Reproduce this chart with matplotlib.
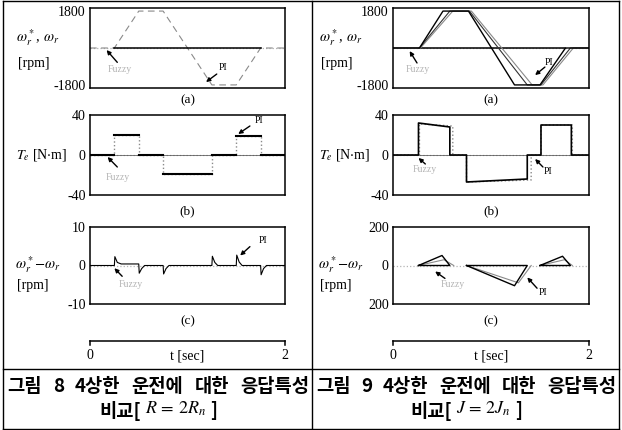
import matplotlib
matplotlib.use('Agg')
import matplotlib.pyplot as plt
from matplotlib.lines import Line2D

plt.rcParams['font.family'] = ['Liberation Serif', 'DejaVu Serif']
plt.rcParams['mathtext.fontset'] = 'stix'

W, H = 622, 430

# ---- left column: R = 2Rn ----
# (a) speed command / response
t_spd_l = [0, 0.25, 0.50, 0.75, 1.25, 1.50, 1.75, 2.0]
w_spd_l = [0, 0, 1800, 1800, -1800, -1800, 0, 0]
# (b) torque, step points
t_te_l = [0, 0.25, 0.25, 0.50, 0.50, 0.75, 0.75, 1.25, 1.25, 1.50, 1.50, 1.75, 1.75, 2.0]
te_l = [0, 0, 20, 20, 0, 0, -19, -19, 0, 0, 19, 19, 0, 0]
# (c) speed error
t_err_l = [0, 0.25, 0.255, 0.28, 0.32, 0.50, 0.505, 0.53, 0.56, 0.75, 0.755, 0.78, 0.81,
           1.25, 1.255, 1.28, 1.31, 1.50, 1.505, 1.53, 1.56, 1.75, 1.755, 1.78, 1.81, 2.0]
err_l = [0, 0, 2.3, 0.8, 0.4, 0.4, -2.0, -0.8, 0, 0, -2.2, -0.8, 0,
         0, 2.4, 0.8, 0, 0, 2.7, 0.9, 0, 0, -2.4, -0.8, 0, 0]

# ---- right column: J = 2Jn ----
t_ref_r = [0, 0.27, 0.51, 0.77, 1.24, 1.50, 1.76, 2.0]
t_fz_r = [0, 0.27, 0.58, 0.78, 1.37, 1.51, 1.81, 2.0]
t_pi_r = [0, 0.28, 0.61, 0.80, 1.42, 1.53, 1.84, 2.0]
w_r = [0, 0, 1800, 1800, -1800, -1800, 0, 0]

t_te_fz_r = [0, 0.26, 0.26, 0.58, 0.58, 0.75, 0.75, 1.37, 1.37, 1.51, 1.51, 1.82, 1.82, 2.0]
te_fz_r = [0, 0, 32, 28, 0, 0, -27, -24, 0, 0, 30, 30, 0, 0]
t_te_pi_r = [0, 0.27, 0.27, 0.61, 0.61, 0.75, 0.75, 1.41, 1.41, 1.51, 1.51, 1.83, 1.83, 2.0]
te_pi_r = [0, 0, 31, 29, 0, 0, -27, -25, 0, 0, 30, 30, 0, 0]

# error triangles (start, peak, end)
t_err_fz_r = [0.26, 0.50, 0.58, 0.75, 1.24, 1.37, 1.50, 1.73, 1.81]
err_fz_r = [0, 52, 0, 0, -105, 0, 0, 48, 0]
t_err_pi_r = [0.26, 0.52, 0.62, 0.75, 1.28, 1.41, 1.50, 1.75, 1.83]
err_pi_r = [0, 30, 0, 0, -90, 0, 0, 30, 0]

tick_a = [1800, -1800]
tick_b = [40, 0, -40]
tick_c_l = [10, 0, -10]
tick_c_r = [200, 0, -200]
tick_c_r_lbl = ['200', '0', '200']

caption_l = ['그림 8 4상한 운전에 대한 응답특성', '비교[', r'$R\,=\,2R_n$', ']']
caption_r = ['그림 9 4상한 운전에 대한 응답특성', '비교[', r'$J\,=\,2J_n$', ']']


def rect(x0, y0, x1, y1):
    return [x0 / W, 1 - y1 / H, (x1 - x0) / W, (y1 - y0) / H]


def fx(x):
    return x / W


def fy(y):
    return 1 - y / H


fig = plt.figure(figsize=(W / 100, H / 100), dpi=100)

LIGHT = '#b4b4b4'
GRAY = '#8a8a8a'


def setup(ax, ylim, ticks, labels=None):
    ax.set_xlim(0, 2)
    ax.set_ylim(*ylim)
    ax.set_xticks([])
    ax.set_yticks(ticks)
    ax.set_yticklabels(labels if labels else [str(v) for v in ticks])
    ax.tick_params(length=0, pad=3, labelsize=10)
    for s in ax.spines.values():
        s.set_linewidth(1.1)
    ax.axhline(0, color=LIGHT, ls=':', lw=0.9, zorder=1)


def arrow(ax, txt, pos, tail, head, color):
    ax.text(pos[0], pos[1], txt, color=color, fontsize=7, ha='center', va='center')
    ax.annotate('', xy=head, xytext=tail,
                arrowprops=dict(arrowstyle='-|>', color='k', lw=1.0, mutation_scale=6,
                                shrinkA=0, shrinkB=0))


cols = [(90, 285), (393, 589)]
rows = [(8, 88), (115, 195), (227, 304)]

axs = {}
for ci, (x0, x1) in enumerate(cols):
    for ri, (y0, y1) in enumerate(rows):
        axs[ci, ri] = fig.add_axes(rect(x0, y0, x1, y1))

# left (a)
ax = axs[0, 0]
setup(ax, (-1950, 1950), tick_a)
ax.plot(t_spd_l, w_spd_l, color=GRAY, ls=(0, (6, 4)), lw=0.8)
ax.plot([t_spd_l[1], t_spd_l[6]], [0, 0], color='k', lw=1.1)
arrow(ax, 'Fuzzy', (0.30, -1070), (0.28, -700), (0.17, -100), LIGHT)
arrow(ax, 'PI', (1.36, -950), (1.30, -1270), (1.19, -1660), 'k')

# left (b)
ax = axs[0, 1]
setup(ax, (-40, 40), tick_b)
ax.axhline(0, color='#444444', lw=0.5, zorder=1)
ax.plot(t_te_l, te_l, color=GRAY, ls=':', lw=1.0)
for i in range(0, len(t_te_l), 2):
    ax.plot(t_te_l[i:i + 2], te_l[i:i + 2], color='k', lw=1.5)
arrow(ax, 'Fuzzy', (0.28, -23), (0.28, -12), (0.18, -2), LIGHT)
arrow(ax, 'PI', (1.73, 34), (1.64, 29), (1.52, 21), 'k')

# left (c)
ax = axs[0, 2]
setup(ax, (-10, 10), tick_c_l)
ax.plot(t_err_l, err_l, color='k', lw=0.8)
arrow(ax, 'Fuzzy', (0.42, -4.9), (0.33, -2.8), (0.25, -0.7), LIGHT)
arrow(ax, 'PI', (1.77, 6.4), (1.64, 4.9), (1.54, 2.6), 'k')

# right (a)
ax = axs[1, 0]
setup(ax, (-1950, 1950), tick_a)
ax.plot([t_ref_r[1], t_ref_r[6]], [0, 0], color='k', lw=1.1)
ax.plot(t_pi_r, w_r, color=GRAY, lw=0.8)
ax.plot(t_fz_r, w_r, color='#333333', lw=0.8)
ax.plot(t_ref_r, w_r, color='k', lw=1.0)
arrow(ax, 'Fuzzy', (0.25, -1070), (0.245, -730), (0.17, -150), LIGHT)
arrow(ax, 'PI', (1.59, -730), (1.55, -930), (1.45, -1320), 'k')

# right (b)
ax = axs[1, 1]
setup(ax, (-40, 40), tick_b)
ax.axhline(0, color='#444444', lw=0.5, zorder=1)
ax.plot(t_te_pi_r, te_pi_r, color=GRAY, ls=':', lw=1.0)
ax.plot(t_te_fz_r, te_fz_r, color='k', lw=1.2)
arrow(ax, 'Fuzzy', (0.32, -15), (0.33, -9), (0.26, -3), LIGHT)
arrow(ax, 'PI', (1.58, -17), (1.53, -12), (1.45, -4), 'k')

# right (c)
ax = axs[1, 2]
setup(ax, (-200, 200), tick_c_r, tick_c_r_lbl)
for i in range(0, len(t_err_pi_r), 3):
    ax.plot(t_err_pi_r[i:i + 3], err_pi_r[i:i + 3], color=GRAY, lw=0.8)
for i in range(0, len(t_err_fz_r), 3):
    ax.plot(t_err_fz_r[i:i + 3] + [t_err_fz_r[i]], err_fz_r[i:i + 3] + [err_fz_r[i]],
            color='k', lw=1.0)
arrow(ax, 'Fuzzy', (0.61, -97), (0.53, -67), (0.43, -31), LIGHT)
arrow(ax, 'PI', (1.53, -139), (1.47, -118), (1.37, -62), 'k')

# y labels and panel letters
for ci, (x0, x1) in enumerate(cols):
    off = x0 - 90
    fig.text(fx(38 + off), fy(38), r'$\omega_r^*$, $\omega_r$', fontsize=10.5, ha='center', va='center')
    fig.text(fx(34 + off), fy(64), '[rpm]', fontsize=10, ha='center', va='center')
    fig.text(fx(42 + off), fy(155), r'$T_e$ [N$\cdot$m]', fontsize=10, ha='center', va='center')
    fig.text(fx(38 + off), fy(265), r'$\omega_r^*$$-$$\omega_r$', fontsize=10.5, ha='center', va='center')
    fig.text(fx(33 + off), fy(286), '[rpm]', fontsize=10, ha='center', va='center')
    xc = (x0 + x1) / 2
    for lbl, yy in zip(['(a)', '(b)', '(c)'], [100, 211, 321]):
        fig.text(fx(xc), fy(yy), lbl, fontsize=9.5, ha='center', va='center')

    # time axis
    tax = fig.add_axes(rect(x0, 341, x1, 342))
    tax.set_xlim(0, 2)
    tax.set_ylim(0, 1)
    tax.patch.set_visible(False)
    for s in ['left', 'right', 'bottom']:
        tax.spines[s].set_visible(False)
    tax.spines['top'].set_linewidth(1.1)
    tax.set_yticks([])
    tax.set_xticks([])
    tax.text(0, -14, '0', fontsize=10, ha='center', va='center', transform=tax.get_xaxis_transform())
    tax.text(2, -14, '2', fontsize=10, ha='center', va='center', transform=tax.get_xaxis_transform())
    tax.text(1, -14, 't [sec]', fontsize=10, ha='center', va='center', transform=tax.get_xaxis_transform())
    tax.plot([0, 0], [1, -3], color='k', lw=1.1, clip_on=False)
    tax.plot([2, 2], [1, -3], color='k', lw=1.1, clip_on=False)

# captions: first line justified across the cell, second line centred
fig.canvas.draw()
renderer = fig.canvas.get_renderer()
cap_font = dict(family='Noto Sans CJK KR', weight='black', fontsize=13.5)
for (cx0, cx1), cap in zip([(7, 309), (316, 616)], [caption_l, caption_r]):
    words = cap[0].split(' ')
    objs = [fig.text(0, fy(386), w, ha='left', va='center', **cap_font) for w in words]
    widths = [o.get_window_extent(renderer).width for o in objs]
    gap = ((cx1 - cx0) - sum(widths)) / (len(words) - 1)
    x = cx0
    for o, wd in zip(objs, widths):
        o.set_x(fx(x))
        x += wd + gap

    parts = [fig.text(0, fy(411), cap[1], ha='left', va='center', **cap_font),
             fig.text(0, fy(409), cap[2], ha='left', va='center', fontsize=13),
             fig.text(0, fy(411), cap[3], ha='left', va='center', **cap_font)]
    pw = [p.get_window_extent(renderer).width for p in parts]
    pad = 4
    x = (cx0 + cx1) / 2 - (sum(pw) + 2 * pad) / 2
    for p, wd in zip(parts, pw):
        p.set_x(fx(x))
        x += wd + pad

# table lines
lines = [((3, 3), (1, 430)), ((619, 619), (1, 430)), ((3, 619), (1, 1)),
         ((312, 312), (1, 430)), ((3, 619), (369, 369)), ((3, 619), (429, 429))]
for xs, ys in lines:
    fig.add_artist(Line2D([fx(v) for v in xs], [fy(v) for v in ys], color='k', lw=1.0))

fig.savefig('out.png', dpi=100)
